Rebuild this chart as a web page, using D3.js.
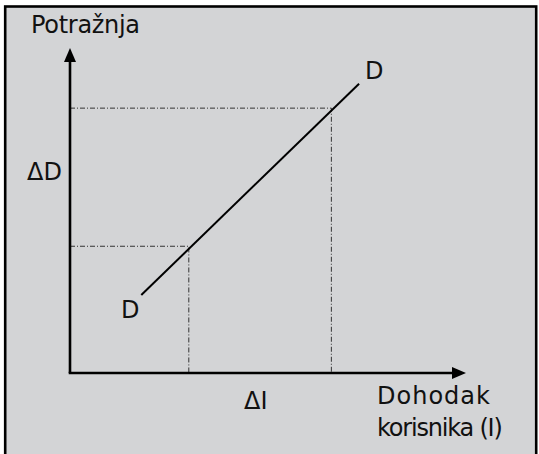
<!DOCTYPE html>
<html>
<head>
<meta charset="utf-8">
<script src="https://cdn.jsdelivr.net/npm/d3@7"></script>
<style>
  body { margin: 0; background: #fff; }
  text { font-family: "DejaVu Sans", sans-serif; fill: #111; }
</style>
</head>
<body>
<div id="chart"></div>
<script>
// demand curve D-D (income, demand), in axis units 0..100
const curveIncome = [18, 73];
const curveDemand = [24, 89];
// the two reference points
const markIncome = [30, 66];
const markDemand = [39, 81.5];

const yTitle = "Potražnja";
const xTitle = ["Dohodak", "korisnika (I)"];
const curveName = "D";
const deltaD = "ΔD";
const deltaI = "ΔI";

var width = 539, height = 454;
var svg = d3.select("#chart")
    .append("svg")
    .attr("width", width)
    .attr("height", height);

// gray panel with black frame (no bottom edge visible)
svg.append("rect")
    .attr("x", 5.2).attr("y", 6.5)
    .attr("width", 531).attr("height", 460)
    .attr("fill", "#d3d4d6")
    .attr("stroke", "#000")
    .attr("stroke-width", 2.6);

var x = d3.scaleLinear().domain([0, 100]).range([70, 466]);
var y = d3.scaleLinear().domain([0, 100]).range([373, 48]);

// dashed guides
markIncome.forEach((inc, i) => {
    var dem = markDemand[i];
    svg.append("path")
        .attr("d", `M${x(0)},${y(dem)}H${x(inc)}V${y(0)}`)
        .attr("fill", "none")
        .attr("stroke", "#333")
        .attr("stroke-width", 1)
        .attr("stroke-dasharray", "5,2,1,2");
});

// axes
svg.append("line")
    .attr("x1", x(0)).attr("y1", y(0))
    .attr("x2", x(0)).attr("y2", y(100) + 12)
    .attr("stroke", "#000").attr("stroke-width", 2.6);
svg.append("line")
    .attr("x1", x(0) - 1.3).attr("y1", y(0))
    .attr("x2", x(100) - 12).attr("y2", y(0))
    .attr("stroke", "#000").attr("stroke-width", 2.6);

// arrow heads
svg.append("path")
    .attr("d", `M${x(0)},${y(100)}L${x(0) - 6},${y(100) + 14}L${x(0) + 6},${y(100) + 14}Z`)
    .attr("fill", "#000");
svg.append("path")
    .attr("d", `M${x(100)},${y(0)}L${x(100) - 14},${y(0) - 6}L${x(100) - 14},${y(0) + 6}Z`)
    .attr("fill", "#000");

// curve
var line = d3.line().x(d => x(d[0])).y(d => y(d[1]));
svg.append("path")
    .datum(d3.zip(curveIncome, curveDemand))
    .attr("d", line)
    .attr("fill", "none")
    .attr("stroke", "#000")
    .attr("stroke-width", 2);

// labels
function label(tx, ty, str, ls) {
    svg.append("text")
        .attr("x", tx).attr("y", ty)
        .attr("font-size", 24)
        .attr("letter-spacing", ls || 0)
        .text(str);
}
label(31, 33, yTitle, -0.3);
label(365, 79, curveName);
label(121, 318, curveName);
label(27, 180, deltaD);
label(244, 409, deltaI);
label(377, 404, xTitle[0], 1);
label(377, 436, xTitle[1], -1.2);
</script>
</body>
</html>
